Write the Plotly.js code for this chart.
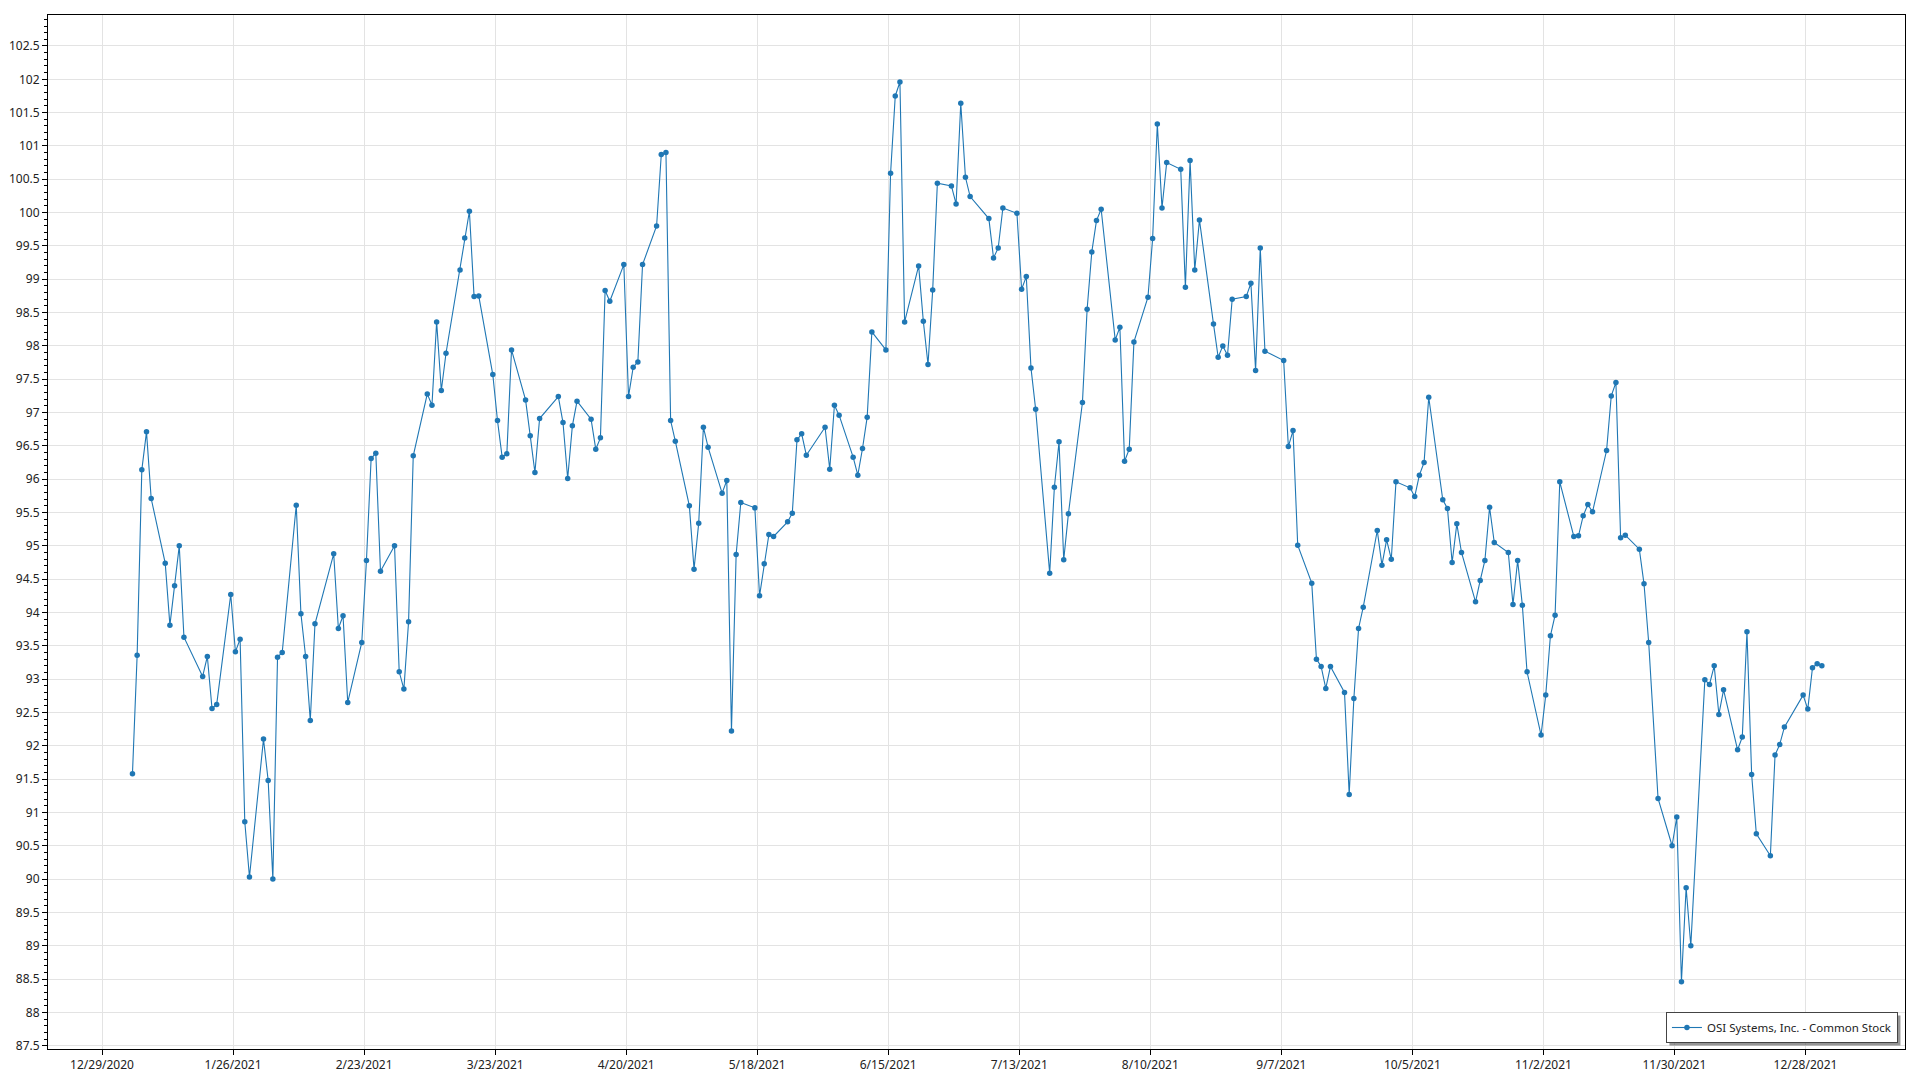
<!DOCTYPE html>
<html>
<head>
<meta charset="utf-8">
<script src="https://cdn.plot.ly/plotly-3.0.1.min.js"></script>
<style>
  html, body { margin: 0; padding: 0; background: #ffffff; }
  #chart { width: 1920px; height: 1080px; }
</style>
</head>
<body>
<div id="chart"></div>
<script>
// Trading dates (2021)
const dates = [
  '2021-01-04','2021-01-05','2021-01-06','2021-01-07','2021-01-08','2021-01-11','2021-01-12','2021-01-13','2021-01-14','2021-01-15','2021-01-19','2021-01-20','2021-01-21','2021-01-22','2021-01-25','2021-01-26','2021-01-27','2021-01-28','2021-01-29',
  '2021-02-01','2021-02-02','2021-02-03','2021-02-04','2021-02-05','2021-02-08','2021-02-09','2021-02-10','2021-02-11','2021-02-12','2021-02-16','2021-02-17','2021-02-18','2021-02-19','2021-02-22','2021-02-23','2021-02-24','2021-02-25','2021-02-26',
  '2021-03-01','2021-03-02','2021-03-03','2021-03-04','2021-03-05','2021-03-08','2021-03-09','2021-03-10','2021-03-11','2021-03-12','2021-03-15','2021-03-16','2021-03-17','2021-03-18','2021-03-19','2021-03-22','2021-03-23','2021-03-24','2021-03-25','2021-03-26','2021-03-29','2021-03-30','2021-03-31',
  '2021-04-01','2021-04-05','2021-04-06','2021-04-07','2021-04-08','2021-04-09','2021-04-12','2021-04-13','2021-04-14','2021-04-15','2021-04-16','2021-04-19','2021-04-20','2021-04-21','2021-04-22','2021-04-23','2021-04-26','2021-04-27','2021-04-28','2021-04-29','2021-04-30',
  '2021-05-03','2021-05-04','2021-05-05','2021-05-06','2021-05-07','2021-05-10','2021-05-11','2021-05-12','2021-05-13','2021-05-14','2021-05-17','2021-05-18','2021-05-19','2021-05-20','2021-05-21','2021-05-24','2021-05-25','2021-05-26','2021-05-27','2021-05-28',
  '2021-06-01','2021-06-02','2021-06-03','2021-06-04','2021-06-07','2021-06-08','2021-06-09','2021-06-10','2021-06-11','2021-06-14','2021-06-15','2021-06-16','2021-06-17','2021-06-18','2021-06-21','2021-06-22','2021-06-23','2021-06-24','2021-06-25','2021-06-28','2021-06-29','2021-06-30',
  '2021-07-01','2021-07-02','2021-07-06','2021-07-07','2021-07-08','2021-07-09','2021-07-12','2021-07-13','2021-07-14','2021-07-15','2021-07-16','2021-07-19','2021-07-20','2021-07-21','2021-07-22','2021-07-23','2021-07-26','2021-07-27','2021-07-28','2021-07-29','2021-07-30',
  '2021-08-02','2021-08-03','2021-08-04','2021-08-05','2021-08-06','2021-08-09','2021-08-10','2021-08-11','2021-08-12','2021-08-13','2021-08-16','2021-08-17','2021-08-18','2021-08-19','2021-08-20','2021-08-23','2021-08-24','2021-08-25','2021-08-26','2021-08-27','2021-08-30','2021-08-31',
  '2021-09-01','2021-09-02','2021-09-03','2021-09-07','2021-09-08','2021-09-09','2021-09-10','2021-09-13','2021-09-14','2021-09-15','2021-09-16','2021-09-17','2021-09-20','2021-09-21','2021-09-22','2021-09-23','2021-09-24','2021-09-27','2021-09-28','2021-09-29','2021-09-30',
  '2021-10-01','2021-10-04','2021-10-05','2021-10-06','2021-10-07','2021-10-08','2021-10-11','2021-10-12','2021-10-13','2021-10-14','2021-10-15','2021-10-18','2021-10-19','2021-10-20','2021-10-21','2021-10-22','2021-10-25','2021-10-26','2021-10-27','2021-10-28','2021-10-29',
  '2021-11-01','2021-11-02','2021-11-03','2021-11-04','2021-11-05','2021-11-08','2021-11-09','2021-11-10','2021-11-11','2021-11-12','2021-11-15','2021-11-16','2021-11-17','2021-11-18','2021-11-19','2021-11-22','2021-11-23','2021-11-24','2021-11-26','2021-11-29','2021-11-30',
  '2021-12-01','2021-12-02','2021-12-03','2021-12-06','2021-12-07','2021-12-08','2021-12-09','2021-12-10','2021-12-13','2021-12-14','2021-12-15','2021-12-16','2021-12-17','2021-12-20','2021-12-21','2021-12-22','2021-12-23','2021-12-27','2021-12-28','2021-12-29','2021-12-30','2021-12-31'
];

// Closing prices
const prices = [
  91.58,93.36,96.14,96.71,95.71,94.74,93.81,94.40,95.00,93.63,93.04,93.34,92.56,92.62,94.27,93.41,93.60,90.86,90.03,
  92.10,91.48,90.00,93.33,93.40,95.61,93.98,93.34,92.38,93.83,94.88,93.76,93.95,92.65,93.55,94.78,96.31,96.39,94.62,
  95.00,93.11,92.85,93.86,96.35,97.28,97.11,98.36,97.33,97.89,99.14,99.62,100.02,98.74,98.75,97.57,96.88,96.33,96.38,97.94,97.19,96.65,96.10,
  96.91,97.24,96.85,96.01,96.80,97.17,96.90,96.45,96.62,98.83,98.67,99.22,97.24,97.68,97.76,99.22,99.80,100.87,100.90,96.88,96.57,
  95.60,94.65,95.34,96.78,96.48,95.79,95.98,92.22,94.87,95.65,95.57,94.25,94.73,95.17,95.14,95.36,95.49,96.59,96.68,96.36,
  96.78,96.15,97.11,96.96,96.33,96.06,96.46,96.93,98.21,97.94,100.59,101.75,101.96,98.36,99.20,98.37,97.72,98.84,100.44,100.40,100.13,101.64,
  100.53,100.24,99.91,99.32,99.47,100.07,99.99,98.85,99.04,97.67,97.05,94.59,95.88,96.56,94.79,95.48,97.15,98.55,99.41,99.88,100.05,
  98.09,98.28,96.27,96.45,98.06,98.73,99.61,101.33,100.07,100.75,100.65,98.88,100.78,99.14,99.89,98.33,97.83,98.00,97.86,98.70,98.74,98.94,
  97.63,99.47,97.92,97.78,96.49,96.73,95.01,94.44,93.30,93.19,92.86,93.19,92.80,91.27,92.71,93.76,94.08,95.23,94.71,95.09,94.80,
  95.96,95.87,95.74,96.06,96.25,97.23,95.69,95.56,94.75,95.33,94.90,94.16,94.48,94.78,95.58,95.05,94.90,94.12,94.78,94.11,93.11,
  92.16,92.76,93.65,93.96,95.96,95.14,95.15,95.45,95.62,95.51,96.43,97.25,97.45,95.12,95.16,94.95,94.43,93.55,91.21,90.50,90.93,
  88.46,89.87,89.00,92.99,92.92,93.20,92.47,92.84,91.94,92.13,93.71,91.57,90.68,90.35,91.86,92.02,92.28,92.76,92.55,93.17,93.23,93.20
];

// Quotes are stamped at midday
const quoteTime = ' 12:00';

const seriesName = 'OSI Systems, Inc. - Common Stock';

const trace = {
  type: 'scatter',
  mode: 'lines+markers',
  x: dates.map(d => d + quoteTime),
  y: prices,
  name: seriesName,
  showlegend: true,
  line: { color: '#1f77b4', width: 1.1 },
  marker: { color: '#1f77b4', size: 5.5 }
};

const fontFamily = '"Noto Sans", "Open Sans", "DejaVu Sans", sans-serif';

const layout = {
  width: 1920,
  height: 1080,
  paper_bgcolor: '#ffffff',
  plot_bgcolor: '#ffffff',
  margin: { l: 48, r: 15, t: 15, b: 31, pad: 0 },
  font: { family: fontFamily, size: 12, color: '#222222' },
  showlegend: true,
  xaxis: {
    type: 'date',
    range: ['2020-12-17 10:50', '2022-01-18 06:30'],
    tick0: '2020-12-29',
    dtick: 28 * 86400000,
    tickformat: '%-m/%-d/%Y',
    ticks: 'outside',
    ticklen: 5,
    tickcolor: '#000000',
    showgrid: true,
    gridcolor: '#e3e3e3',
    gridwidth: 1,
    showline: true,
    linecolor: '#000000',
    linewidth: 1,
    mirror: true,
    zeroline: false,
    tickfont: { family: fontFamily, size: 12, color: '#222222' }
  },
  yaxis: {
    range: [87.45, 102.965],
    tick0: 87.5,
    dtick: 0.5,
    ticks: 'outside',
    ticklen: 5,
    tickcolor: '#000000',
    minor: { ticks: 'outside', dtick: 0.1, ticklen: 3, tickcolor: '#000000', showgrid: false },
    showgrid: true,
    gridcolor: '#e3e3e3',
    gridwidth: 1,
    showline: true,
    linecolor: '#000000',
    linewidth: 1,
    mirror: true,
    zeroline: false,
    tickfont: { family: fontFamily, size: 12, color: '#222222' }
  },
  legend: {
    x: 0.9962,
    y: 0.0058,
    xanchor: 'right',
    yanchor: 'bottom',
    bgcolor: '#ffffff',
    bordercolor: '#444444',
    borderwidth: 1,
    itemwidth: 30,
    font: { family: fontFamily, size: 11.5, color: '#222222' }
  }
};

const gd = document.getElementById('chart');
Plotly.newPlot(gd, [trace], layout, { displayModeBar: false, staticPlot: true }).then(() => {
  // Drop shadow behind the legend box, measured from the legend Plotly drew
  const bg = gd.querySelector('g.legend rect.bg');
  const sz = gd._fullLayout && gd._fullLayout._size;
  if (!bg || !sz) return;
  const r = bg.getBoundingClientRect();
  const c = gd.getBoundingClientRect();
  const left = r.left - c.left, right = r.right - c.left;
  const top = r.top - c.top, bottom = r.bottom - c.top;
  const plotBottom = sz.t + sz.h;
  const off = 3;
  const shadow = {
    type: 'rect', xref: 'paper', yref: 'paper',
    xsizemode: 'pixel', ysizemode: 'pixel',
    xanchor: 0, yanchor: 0,
    x0: left - sz.l + off, x1: right - sz.l + off,
    y0: plotBottom - bottom - off, y1: plotBottom - top - off,
    fillcolor: 'rgba(60,60,60,0.55)', line: { width: 0 }, layer: 'above'
  };
  return Plotly.relayout(gd, { shapes: [shadow] });
});
</script>
</body>
</html>
